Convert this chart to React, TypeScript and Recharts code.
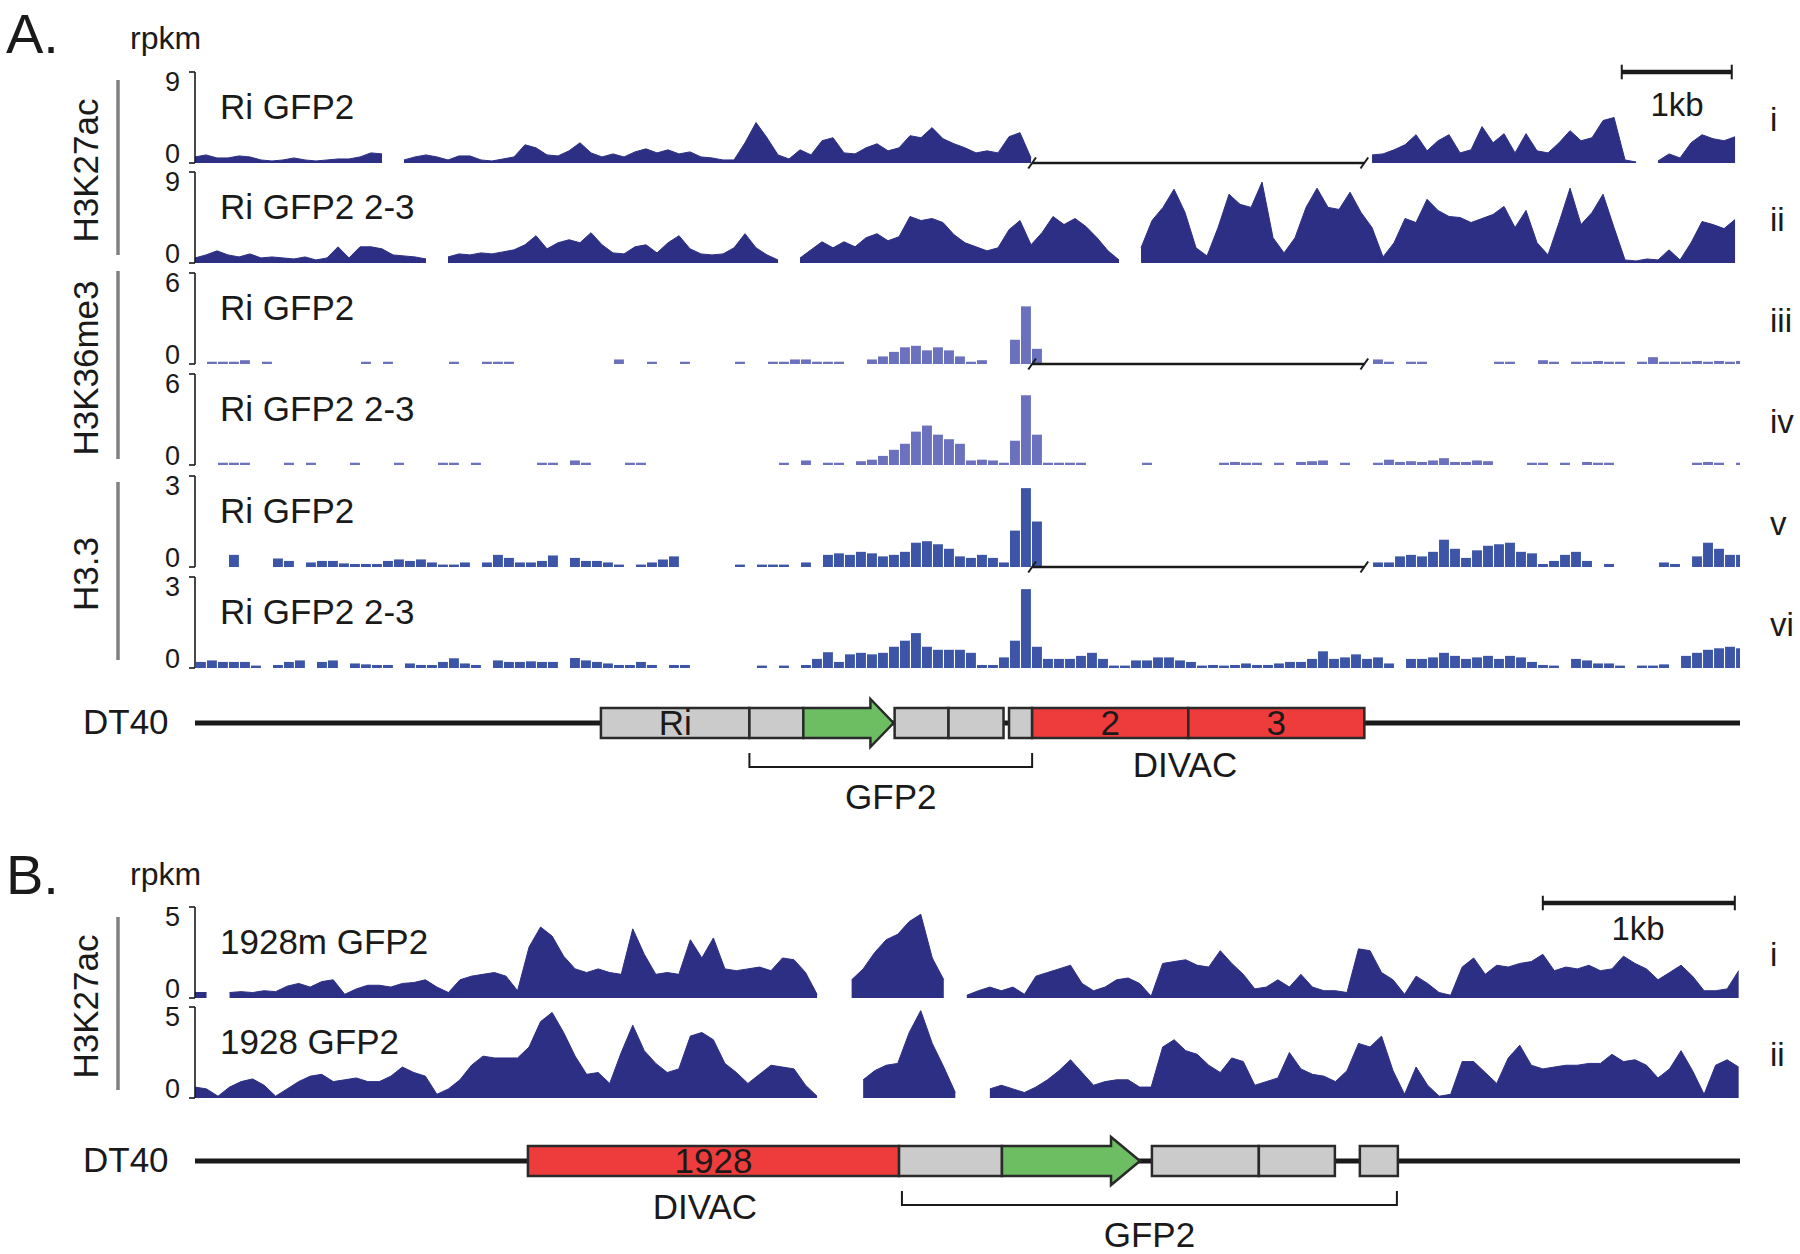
import React from 'react';
import {
  AreaChart, Area, BarChart, Bar, ComposedChart, XAxis, YAxis, ReferenceLine, ReferenceArea,
} from 'recharts';

const FONT = "'Liberation Sans', Arial, Helvetica, sans-serif";
const INK = '#1a1a1a';
const _ = null;

// ---------------- genomic frames ----------------
const A_BIN_BP = 100;
const A_SPAN_BP = 14045;
const B_BIN_BP = 60;
const B_SPAN_BP = 8047;
const A_SCALEBAR = [12970, 13970];
const B_SCALEBAR = [7020, 8020];

// ---------------- coverage (rpkm per bin) ----------------
const A_H3K27AC_RI_GFP2 = [
  0.6, 0.8, 0.5, 0.5, 0.7, 0.6, 0.3, 0.2, 0.3, 0.5,
  0.3, 0.2, 0.3, 0.4, 0.4, 0.6, 1.0, 0.9, _, 0.3,
  0.6, 0.8, 0.6, 0.3, 0.7, 0.7, 0.3, 0.2, 0.4, 0.6,
  1.8, 1.5, 0.8, 0.7, 1.2, 2.0, 1.0, 0.6, 0.9, 0.6,
  1.1, 1.4, 1.0, 1.3, 0.9, 1.1, 0.6, 0.5, 0.3, 0.3,
  2.0, 4.0, 2.5, 0.8, 0.4, 1.3, 0.8, 2.2, 2.5, 1.0,
  0.9, 1.5, 1.9, 1.2, 1.5, 2.7, 2.5, 3.5, 2.4, 1.9,
  1.5, 1.0, 1.2, 1.0, 2.6, 3.0, 0.5, _, _, _,
  _, _, _, _, _, _, _, _, _, _,
  _, _, _, _, _, _, _, _, _, _,
  _, _, _, _, _, _, _, 0.8, 0.9, 1.3,
  1.8, 2.8, 1.2, 2.2, 2.8, 1.0, 1.3, 3.6, 2.0, 2.9,
  1.0, 2.9, 1.2, 1.0, 2.0, 3.2, 2.2, 2.5, 4.2, 4.5,
  0.3, 0.1, _, 0.2, 0.9, 0.5, 2.0, 2.8, 2.4, 2.2,
  2.6,
];
const A_H3K27AC_RI_GFP2_23 = [
  0.5, 0.8, 1.2, 0.8, 0.6, 0.9, 0.5, 0.6, 0.5, 0.4,
  0.6, 0.3, 0.5, 1.6, 0.5, 1.6, 1.6, 1.4, 0.8, 0.7,
  0.6, 0.4, _, 0.6, 0.9, 0.8, 1.0, 0.9, 1.1, 1.3,
  1.8, 2.7, 1.4, 2.0, 2.3, 2.0, 3.0, 1.8, 1.0, 0.9,
  1.6, 1.8, 1.0, 2.0, 2.7, 1.4, 0.9, 0.8, 0.9, 1.5,
  2.9, 1.5, 0.8, 0.3, _, 0.5, 1.3, 2.1, 1.5, 2.1,
  1.6, 2.5, 2.9, 2.2, 2.6, 4.6, 4.2, 4.4, 4.0, 2.8,
  2.0, 1.6, 1.2, 1.5, 3.3, 4.2, 1.8, 3.0, 4.6, 3.8,
  4.4, 3.6, 2.5, 1.2, 0.3, _, 1.5, 4.2, 5.5, 7.3,
  5.0, 1.5, 0.7, 3.5, 6.8, 5.8, 5.5, 8.0, 2.5, 1.0,
  2.5, 5.5, 7.4, 5.5, 5.3, 7.0, 5.0, 3.5, 0.6, 2.0,
  4.4, 4.0, 6.3, 5.2, 4.6, 4.5, 4.0, 4.4, 4.8, 5.6,
  3.5, 5.2, 2.0, 0.8, 4.0, 7.4, 3.8, 5.0, 6.8, 3.5,
  0.3, 0.2, 0.4, 0.3, 1.3, 0.3, 2.0, 4.1, 3.8, 3.4,
  4.3,
];
const A_H3K36ME3_RI_GFP2 = [
  _, 0.15, 0.15, 0.15, 0.25, _, 0.15, _, _, _,
  _, _, _, _, _, 0.15, _, 0.15, _, _,
  _, _, _, 0.15, _, _, 0.15, 0.15, 0.15, _,
  _, _, _, _, _, _, _, _, 0.3, _,
  _, 0.15, _, _, 0.15, _, _, _, _, 0.15,
  _, _, 0.15, 0.15, 0.3, 0.3, 0.15, 0.15, 0.15, _,
  _, 0.3, 0.5, 0.8, 1.1, 1.2, 0.9, 1.1, 0.9, 0.5,
  0.15, 0.25, _, _, 1.6, 3.8, 1.0, _, _, _,
  _, _, _, _, _, _, _, _, _, _,
  _, _, _, _, _, _, _, _, _, _,
  _, _, _, _, _, _, _, 0.3, 0.15, _,
  0.15, 0.15, _, _, _, _, _, _, 0.15, 0.15,
  _, _, 0.25, 0.15, _, 0.15, 0.15, 0.2, 0.15, 0.15,
  _, 0.15, 0.45, 0.15, 0.15, 0.15, 0.2, 0.15, 0.2, 0.15,
  0.2,
];
const A_H3K36ME3_RI_GFP2_23 = [
  _, _, 0.15, 0.15, 0.15, _, _, _, 0.15, _,
  0.15, _, _, _, 0.15, _, _, _, 0.15, _,
  _, _, 0.15, 0.15, _, 0.15, _, _, _, _,
  _, 0.15, 0.15, _, 0.3, 0.15, _, _, _, 0.15,
  0.15, _, _, _, _, _, _, _, _, _,
  _, _, _, 0.15, _, 0.3, _, 0.15, 0.15, _,
  0.25, 0.35, 0.6, 1.0, 1.4, 2.2, 2.6, 2.0, 1.7, 1.4,
  0.3, 0.35, 0.3, 0.15, 1.6, 4.6, 2.0, 0.15, 0.15, 0.15,
  0.15, _, _, _, _, _, 0.15, _, _, _,
  _, _, _, 0.15, 0.2, 0.15, 0.15, _, 0.15, _,
  0.2, 0.25, 0.3, _, 0.15, _, _, 0.15, 0.35, 0.2,
  0.25, 0.2, 0.3, 0.45, 0.2, 0.2, 0.3, 0.25, _, _,
  _, 0.15, 0.15, _, 0.15, _, 0.2, 0.15, 0.15, _,
  _, _, _, _, _, _, 0.15, 0.2, 0.15, _,
  0.15,
];
const A_H33_RI_GFP2 = [
  _, _, _, 0.4, _, _, _, 0.28, 0.2, _,
  0.15, 0.2, 0.2, 0.12, 0.1, 0.1, 0.1, 0.2, 0.25, 0.2,
  0.25, 0.15, 0.08, 0.08, 0.15, _, 0.15, 0.4, 0.3, 0.15,
  0.15, 0.2, 0.38, _, 0.3, 0.2, 0.2, 0.15, 0.08, _,
  0.08, 0.15, 0.25, 0.35, _, _, _, _, _, 0.08,
  _, 0.08, 0.08, 0.08, _, 0.15, _, 0.4, 0.45, 0.4,
  0.5, 0.45, 0.35, 0.4, 0.5, 0.8, 0.85, 0.75, 0.6, 0.35,
  0.3, 0.4, 0.3, 0.15, 1.2, 2.6, 1.5, _, _, _,
  _, _, _, _, _, _, _, _, _, _,
  _, _, _, _, _, _, _, _, _, _,
  _, _, _, _, _, _, _, 0.15, 0.15, 0.35,
  0.4, 0.35, 0.5, 0.9, 0.6, 0.3, 0.55, 0.7, 0.75, 0.8,
  0.5, 0.45, 0.1, 0.2, 0.4, 0.5, 0.2, _, 0.1, _,
  _, _, _, 0.15, 0.1, _, 0.35, 0.8, 0.6, 0.4,
  0.4,
];
const A_H33_RI_GFP2_23 = [
  0.2, 0.25, 0.2, 0.2, 0.2, 0.08, _, 0.1, 0.2, 0.25,
  _, 0.2, 0.25, _, 0.15, 0.12, 0.1, 0.1, _, 0.15,
  0.1, 0.1, 0.2, 0.32, 0.15, 0.1, _, 0.25, 0.2, 0.2,
  0.22, 0.2, 0.2, _, 0.33, 0.25, 0.2, 0.15, 0.1, 0.1,
  0.2, 0.1, _, 0.1, 0.1, _, _, _, _, _,
  _, 0.08, _, 0.08, _, 0.1, 0.3, 0.52, 0.2, 0.45,
  0.5, 0.45, 0.5, 0.7, 0.9, 1.15, 0.7, 0.6, 0.6, 0.6,
  0.5, 0.1, 0.1, 0.35, 0.9, 2.6, 0.7, 0.3, 0.3, 0.3,
  0.4, 0.5, 0.3, 0.08, 0.08, 0.25, 0.25, 0.35, 0.35, 0.25,
  0.2, 0.08, 0.1, 0.08, 0.1, 0.15, 0.1, 0.1, 0.15, 0.2,
  0.2, 0.3, 0.55, 0.3, 0.35, 0.45, 0.3, 0.35, 0.15, _,
  0.3, 0.3, 0.35, 0.5, 0.4, 0.3, 0.35, 0.4, 0.3, 0.4,
  0.35, 0.2, 0.1, 0.08, _, 0.3, 0.25, 0.15, 0.15, 0.08,
  _, 0.08, 0.08, 0.12, _, 0.4, 0.5, 0.6, 0.65, 0.7,
  0.65,
];
const B_H3K27AC_1928M_GFP2 = [
  0.3, 0.3, _, 0.3, 0.35, 0.3, 0.4, 0.35, 0.65, 0.8,
  0.6, 0.9, 1.0, 0.2, 0.5, 0.7, 0.7, 0.6, 0.8, 0.85,
  1.0, 0.6, 0.3, 1.0, 1.2, 1.3, 1.4, 1.2, 0.4, 2.8,
  3.9, 3.4, 2.3, 1.6, 1.4, 1.6, 1.4, 1.3, 3.8, 2.4,
  1.3, 1.4, 1.3, 3.2, 2.2, 3.3, 1.6, 1.5, 1.6, 1.7,
  1.5, 2.2, 2.1, 1.4, 0.2, _, _, 1.0, 1.6, 2.5,
  3.2, 3.5, 4.2, 4.6, 2.2, 1.0, _, 0.15, 0.4, 0.6,
  0.4, 0.6, 0.2, 1.2, 1.4, 1.6, 1.8, 0.8, 0.4, 0.6,
  1.0, 1.1, 0.8, 0.1, 1.9, 2.0, 2.1, 1.8, 1.7, 2.6,
  1.9, 1.3, 0.5, 0.6, 1.0, 0.6, 1.3, 0.6, 0.4, 0.4,
  0.3, 2.7, 2.6, 1.4, 1.0, 0.2, 1.2, 0.8, 0.3, 0.15,
  1.7, 2.2, 1.3, 1.8, 1.7, 1.9, 2.0, 2.4, 1.5, 1.7,
  1.6, 1.8, 1.5, 1.6, 2.3, 1.9, 1.6, 1.0, 1.4, 1.8,
  1.2, 0.4, 0.4, 0.5, 1.5,
];
const B_H3K27AC_1928_GFP2 = [
  0.6, 0.5, 0.1, 0.6, 0.9, 1.05, 0.7, 0.1, 0.5, 0.9,
  1.2, 1.3, 0.9, 1.0, 1.1, 0.9, 0.9, 1.2, 1.7, 1.4,
  1.2, 0.2, 0.5, 1.0, 1.8, 2.3, 2.2, 2.2, 2.2, 2.8,
  4.2, 4.7, 3.6, 2.3, 1.3, 1.4, 0.8, 2.5, 4.0, 2.6,
  1.9, 1.4, 1.6, 3.4, 3.6, 3.2, 1.9, 1.4, 0.8, 1.3,
  1.8, 1.7, 1.6, 0.7, 0.1, _, _, _, 1.0, 1.5,
  1.8, 1.9, 3.6, 4.8, 3.0, 1.7, 0.3, _, _, 0.5,
  0.7, 0.5, 0.3, 0.6, 1.0, 1.5, 2.1, 1.4, 0.7, 0.9,
  1.0, 1.0, 0.6, 0.6, 2.8, 3.2, 2.6, 2.4, 1.8, 1.4,
  2.2, 2.0, 0.7, 0.9, 1.1, 2.5, 1.6, 1.3, 1.2, 0.9,
  1.5, 3.0, 2.8, 3.4, 1.5, 0.2, 1.7, 0.7, 0.1, 0.2,
  2.0, 2.0, 1.4, 0.8, 2.2, 2.9, 1.8, 1.6, 1.7, 1.8,
  1.8, 1.9, 1.9, 2.4, 2.0, 2.1, 1.8, 1.1, 1.6, 2.6,
  1.5, 0.2, 1.8, 2.1, 1.7,
];

// ---------------- loci (bp) ----------------
const A_FEATURES = [
  { kind: 'vector', start: 3690, end: 5040, label: 'Ri' },
  { kind: 'vector', start: 5040, end: 5530 },
  { kind: 'gfp', start: 5530, end: 6350, headStart: 6140 },
  { kind: 'vector', start: 6360, end: 6850 },
  { kind: 'vector', start: 6850, end: 7350 },
  { kind: 'vector', start: 7400, end: 7610 },
  { kind: 'divac', start: 7610, end: 9030, label: '2' },
  { kind: 'divac', start: 9030, end: 10630, label: '3' },
];
const A_BRACKETS = [{ start: 5040, end: 7610, label: 'GFP2' }];
const A_REGION_LABELS = [{ center: 9000, label: 'DIVAC' }];
const A_BREAK = [7610, 10630];

const B_FEATURES = [
  { kind: 'divac', start: 1734, end: 3667, label: '1928' },
  { kind: 'vector', start: 3667, end: 4203 },
  { kind: 'gfp', start: 4203, end: 4922, headStart: 4771 },
  { kind: 'vector', start: 4984, end: 5541 },
  { kind: 'vector', start: 5541, end: 5937 },
  { kind: 'vector', start: 6067, end: 6265 },
];
const B_BRACKETS = [{ start: 3682, end: 6260, label: 'GFP2' }];
const B_REGION_LABELS = [{ center: 2656, label: 'DIVAC' }];

// ---------------- styles / layout ----------------
const COLORS: Record<string, string> = {
  h3k27ac: '#2d2f85',
  h3k36me3: '#6b71bd',
  h33: '#3c55a7',
  vector: '#cbcbcb',
  gfp: '#6dbd63',
  divac: '#ee3b3b',
  group: '#808080',
};
const PLOT_LEFT = 195;
const PLOT_WIDTH = 1545;
const AXIS_W = 40;
const TRACK_H = 91;
const PAD = 12;

const A_TRACKS = [
  { values: A_H3K27AC_RI_GFP2, name: 'Ri GFP2', numeral: 'i', max: 9, mark: 'h3k27ac', kind: 'area', top: 72, broken: true, scale: true, scaleLiftPx: 0 },
  { values: A_H3K27AC_RI_GFP2_23, name: 'Ri GFP2 2-3', numeral: 'ii', max: 9, mark: 'h3k27ac', kind: 'area', top: 172 },
  { values: A_H3K36ME3_RI_GFP2, name: 'Ri GFP2', numeral: 'iii', max: 6, mark: 'h3k36me3', kind: 'bar', top: 273, broken: true },
  { values: A_H3K36ME3_RI_GFP2_23, name: 'Ri GFP2 2-3', numeral: 'iv', max: 6, mark: 'h3k36me3', kind: 'bar', top: 374 },
  { values: A_H33_RI_GFP2, name: 'Ri GFP2', numeral: 'v', max: 3, mark: 'h33', kind: 'bar', top: 476, broken: true },
  { values: A_H33_RI_GFP2_23, name: 'Ri GFP2 2-3', numeral: 'vi', max: 3, mark: 'h33', kind: 'bar', top: 577 },
];
const B_TRACKS = [
  { values: B_H3K27AC_1928M_GFP2, name: '1928m GFP2', numeral: 'i', max: 5, mark: 'h3k27ac', kind: 'area', top: 907, scale: true, scaleLiftPx: 4 },
  { values: B_H3K27AC_1928_GFP2, name: '1928 GFP2', numeral: 'ii', max: 5, mark: 'h3k27ac', kind: 'area', top: 1007 },
];
const GROUPS = [
  { label: 'H3K27ac', y1: 80, y2: 255 },
  { label: 'H3K36me3', y1: 271, y2: 459 },
  { label: 'H3.3', y1: 482, y2: 660 },
  { label: 'H3K27ac', y1: 917, y2: 1090 },
];

const GENE_H = 130;
const G = { line: 33, lineW: 5, box1: 18, box2: 48, overhang: 9, br1: 63, br2: 77, bracketLabel: 106.6 };

const AxisTick = (props: any) => {
  const { x, y, payload, max } = props;
  const isTop = payload.value === max;
  return (
    <text x={x} y={y} dy={isTop ? 19 : 0} textAnchor="end" fontSize={27} fontFamily={FONT} fill={INK}>
      {payload.value}
    </text>
  );
};

function TrackChart({ t, span, binBp, brk, scaleBar }: any) {
  const isBar = t.kind === 'bar';
  const data = t.values.map((v: number | null, i: number) => ({ x: isBar ? (i + 0.5) * binBp : i * binBp, v }));
  const color = COLORS[t.mark];
  const width = AXIS_W + PLOT_WIDTH;
  const height = TRACK_H + 2 * PAD;
  const style: React.CSSProperties = { position: 'absolute', left: PLOT_LEFT - AXIS_W, top: t.top - PAD };
  const margin = { top: PAD, right: 0, bottom: PAD, left: 0 };
  const slashDx = binBp * 0.35;
  const slashDy = t.max * 0.06;
  const lift = t.max * (1 + (t.scaleLiftPx || 0) / TRACK_H);
  const tickDy = t.max * 0.08;

  const common = [
    <XAxis key="x" type="number" dataKey="x" domain={[0, span]} hide allowDataOverflow />,
    <YAxis
      key="y"
      type="number"
      domain={[0, t.max]}
      ticks={[0, t.max]}
      interval={0}
      width={AXIS_W}
      tickSize={6}
      tickMargin={9}
      axisLine={{ stroke: INK, strokeWidth: 1.6 }}
      tickLine={{ stroke: INK, strokeWidth: 1.6 }}
      tick={(p: any) => <AxisTick {...p} max={t.max} />}
      allowDataOverflow
    />,
  ];
  const extras: any[] = [];
  if (t.broken && brk) {
    extras.push(
      <ReferenceLine key="b0" segment={[{ x: brk[0], y: 0 }, { x: brk[1], y: 0 }]} stroke={INK} strokeWidth={2.5} ifOverflow="visible" />,
      <ReferenceLine key="b1" segment={[{ x: brk[0] - slashDx, y: -slashDy }, { x: brk[0] + slashDx, y: slashDy }]} stroke={INK} strokeWidth={2} ifOverflow="visible" />,
      <ReferenceLine key="b2" segment={[{ x: brk[1] - slashDx, y: -slashDy }, { x: brk[1] + slashDx, y: slashDy }]} stroke={INK} strokeWidth={2} ifOverflow="visible" />,
    );
  }
  if (t.scale && scaleBar) {
    extras.push(
      <ReferenceLine key="s0" segment={[{ x: scaleBar[0], y: lift }, { x: scaleBar[1], y: lift }]} stroke={INK} strokeWidth={4.5} ifOverflow="visible" />,
      <ReferenceLine key="s1" segment={[{ x: scaleBar[0], y: lift - tickDy }, { x: scaleBar[0], y: lift + tickDy }]} stroke={INK} strokeWidth={2} ifOverflow="visible" />,
      <ReferenceLine key="s2" segment={[{ x: scaleBar[1], y: lift - tickDy }, { x: scaleBar[1], y: lift + tickDy }]} stroke={INK} strokeWidth={2} ifOverflow="visible" />,
    );
  }
  if (isBar) {
    const barPx = PLOT_WIDTH / (span / binBp) + 0.6;
    return (
      <div style={style}>
        <BarChart width={width} height={height} data={data} margin={margin}>
          {common}
          <Bar dataKey="v" fill={color} barSize={barPx} isAnimationActive={false} />
          {extras}
        </BarChart>
      </div>
    );
  }
  return (
    <div style={style}>
      <AreaChart width={width} height={height} data={data} margin={margin}>
        {common}
        <Area type="linear" dataKey="v" stroke={color} strokeWidth={1} fill={color} fillOpacity={1}
          isAnimationActive={false} dot={false} activeDot={false} connectNulls={false} />
        {extras}
      </AreaChart>
    </div>
  );
}

function GeneChart({ top, span, features, brackets, regionLabels, regionLabelY }: any) {
  const labelStyle = { fontSize: 35, fill: INK, fontFamily: FONT };
  const halfLabel = 600;
  return (
    <div style={{ position: 'absolute', left: PLOT_LEFT - AXIS_W, top }}>
      <ComposedChart width={AXIS_W + PLOT_WIDTH} height={GENE_H} data={[{ x: 0 }, { x: span }]}
        margin={{ top: 0, right: 0, bottom: 0, left: AXIS_W }}>
        <XAxis type="number" dataKey="x" domain={[0, span]} hide allowDataOverflow />
        <YAxis type="number" domain={[0, GENE_H]} reversed hide allowDataOverflow />
        <ReferenceArea x1={0} x2={span} y1={G.line - G.lineW / 2} y2={G.line + G.lineW / 2}
          fill={INK} fillOpacity={1} stroke="none" ifOverflow="visible" />
        {features.map((f: any, i: number) => {
          if (f.kind === 'gfp') {
            const shape = (p: any) => {
              const { x, y, width, height } = p;
              const hw = (width * (f.end - f.headStart)) / (f.end - f.start);
              const oh = G.box1 - G.overhang;
              const d = `M${x},${y} L${x + width - hw},${y} L${x + width - hw},${y - oh} L${x + width},${y + height / 2} L${x + width - hw},${y + height + oh} L${x + width - hw},${y + height} L${x},${y + height} Z`;
              return <path d={d} fill={COLORS.gfp} stroke="#2a2a2a" strokeWidth={2.5} strokeLinejoin="miter" />;
            };
            return <ReferenceArea key={i} x1={f.start} x2={f.end} y1={G.box1} y2={G.box2} shape={shape} ifOverflow="visible" />;
          }
          return (
            <ReferenceArea key={i} x1={f.start} x2={f.end} y1={G.box1} y2={G.box2}
              fill={COLORS[f.kind]} fillOpacity={1} stroke="#2a2a2a" strokeWidth={2.5} ifOverflow="visible"
              label={f.label ? { value: f.label, position: 'center', ...labelStyle } : undefined} />
          );
        })}
        {brackets.map((b: any, i: number) => {
          const shape = (p: any) => {
            const { x, y, width, height } = p;
            return <path d={`M${x},${y} L${x},${y + height} L${x + width},${y + height} L${x + width},${y}`} fill="none" stroke={INK} strokeWidth={2} />;
          };
          return [
            <ReferenceArea key={`b${i}`} x1={b.start} x2={b.end} y1={G.br1} y2={G.br2} shape={shape} ifOverflow="visible" />,
            <ReferenceArea key={`bl${i}`} x1={b.start} x2={b.end} y1={G.bracketLabel - 10} y2={G.bracketLabel + 10}
              fill="none" stroke="none" ifOverflow="visible"
              label={{ value: b.label, position: 'center', ...labelStyle }} />,
          ];
        })}
        {regionLabels.map((r: any, i: number) => (
          <ReferenceArea key={`r${i}`} x1={r.center - halfLabel} x2={r.center + halfLabel} y1={regionLabelY - 10} y2={regionLabelY + 10}
            fill="none" stroke="none" ifOverflow="visible"
            label={{ value: r.label, position: 'center', ...labelStyle }} />
        ))}
      </ComposedChart>
    </div>
  );
}

function Overlay() {
  const tracks = [...A_TRACKS, ...B_TRACKS];
  return (
    <svg width={1800} height={1254} style={{ position: 'absolute', left: 0, top: 0, pointerEvents: 'none' }}
      fontFamily={FONT} fill={INK}>
      <text x={6} y={53} fontSize={56}>A.</text>
      <text x={6} y={894} fontSize={56}>B.</text>
      <text x={130} y={49} fontSize={32}>rpkm</text>
      <text x={130} y={885} fontSize={32}>rpkm</text>
      {GROUPS.map((g, i) => (
        <g key={i}>
          <line x1={118} x2={118} y1={g.y1} y2={g.y2} stroke={COLORS.group} strokeWidth={3.5} />
          <text x={98} y={(g.y1 + g.y2) / 2 + 3} fontSize={35} textAnchor="middle"
            transform={`rotate(-90 98 ${(g.y1 + g.y2) / 2 + 3})`}>{g.label}</text>
        </g>
      ))}
      {tracks.map((t, i) => (
        <g key={i}>
          <text x={220} y={t.top + 47} fontSize={35}>{t.name}</text>
          <text x={1770} y={t.top + 59} fontSize={33}>{t.numeral}</text>
        </g>
      ))}
      <text x={1677} y={116} fontSize={33} textAnchor="middle">1kb</text>
      <text x={1638} y={940} fontSize={33} textAnchor="middle">1kb</text>
      <text x={83} y={734} fontSize={35}>DT40</text>
      <text x={83} y={1172} fontSize={35}>DT40</text>
    </svg>
  );
}

export default function App() {
  return (
    <div style={{ position: 'absolute', left: 0, top: 0, width: 1800, height: 1254, background: '#fff', overflow: 'hidden' }}>
      {A_TRACKS.map((t, i) => (
        <TrackChart key={`a${i}`} t={t} span={A_SPAN_BP} binBp={A_BIN_BP} brk={A_BREAK} scaleBar={A_SCALEBAR} />
      ))}
      {B_TRACKS.map((t, i) => (
        <TrackChart key={`b${i}`} t={t} span={B_SPAN_BP} binBp={B_BIN_BP} scaleBar={B_SCALEBAR} />
      ))}
      <GeneChart top={690} span={A_SPAN_BP} features={A_FEATURES} brackets={A_BRACKETS}
        regionLabels={A_REGION_LABELS} regionLabelY={74.5} />
      <GeneChart top={1128} span={B_SPAN_BP} features={B_FEATURES} brackets={B_BRACKETS}
        regionLabels={B_REGION_LABELS} regionLabelY={78.6} />
      <Overlay />
    </div>
  );
}
